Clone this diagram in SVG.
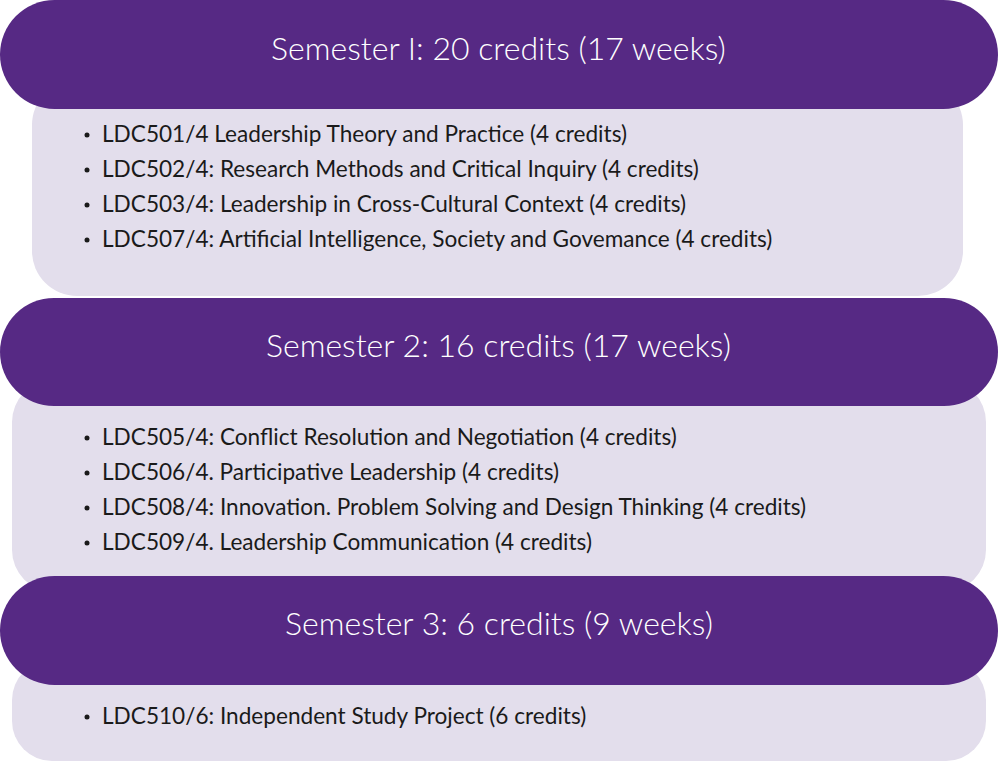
<svg xmlns="http://www.w3.org/2000/svg" width="999" height="763" viewBox="0 0 999 763">
<style>
.hdr{fill:#562984}
.body{fill:#E3DEEC}
.ht{font-family:Lato,"Open Sans","Liberation Sans",sans-serif;font-weight:300;font-size:32px;fill:#ffffff;text-anchor:middle}
.bt{font-family:Lato,"Open Sans","Liberation Sans",sans-serif;font-weight:400;font-size:22.6px;fill:#1a1a1a}
.dot{fill:#1a1a1a}
</style>
<rect width="999" height="763" fill="#ffffff"/>
<g id="semester1">
<rect class="body" x="32" y="80" width="931" height="216" rx="45"/>
<rect class="hdr" x="0" y="0" width="998" height="109" rx="54.5"/>
<text class="ht" x="498.5" y="60">Semester I: 20 credits (17 weeks)</text>
<circle class="dot" cx="87" cy="135" r="2.5"/><text class="bt" x="102" y="142">LDC501/4 Leadership Theory and Practice (4 credits)</text>
<circle class="dot" cx="87" cy="170" r="2.5"/><text class="bt" x="102" y="177">LDC502/4: Research Methods and Critical Inquiry (4 credits)</text>
<circle class="dot" cx="87" cy="205" r="2.5"/><text class="bt" x="102" y="212">LDC503/4: Leadership in Cross-Cultural Context (4 credits)</text>
<circle class="dot" cx="87" cy="240" r="2.5"/><text class="bt" x="102" y="247">LDC507/4: Artificial Intelligence, Society and Govemance (4 credits)</text>
</g>
<g id="semester2">
<rect class="body" x="12" y="380" width="974" height="212" rx="42"/>
<rect class="hdr" x="0" y="298" width="998" height="108" rx="54"/>
<text class="ht" x="498.5" y="357">Semester 2: 16 credits (17 weeks)</text>
<circle class="dot" cx="87" cy="438" r="2.5"/><text class="bt" x="102" y="445">LDC505/4: Conflict Resolution and Negotiation (4 credits)</text>
<circle class="dot" cx="87" cy="473" r="2.5"/><text class="bt" x="102" y="480">LDC506/4. Participative Leadership (4 credits)</text>
<circle class="dot" cx="87" cy="508" r="2.5"/><text class="bt" x="102" y="515">LDC508/4: Innovation. Problem Solving and Design Thinking (4 credits)</text>
<circle class="dot" cx="87" cy="543" r="2.5"/><text class="bt" x="102" y="550">LDC509/4. Leadership Communication (4 credits)</text>
</g>
<g id="semester3">
<rect class="body" x="12" y="660" width="974" height="101" rx="40"/>
<rect class="hdr" x="0" y="576" width="998" height="109" rx="54.5"/>
<text class="ht" x="499" y="635">Semester 3: 6 credits (9 weeks)</text>
<circle class="dot" cx="87" cy="717" r="2.5"/><text class="bt" x="102" y="724">LDC510/6: Independent Study Project (6 credits)</text>
</g>
<g id="connectors"/>
</svg>
